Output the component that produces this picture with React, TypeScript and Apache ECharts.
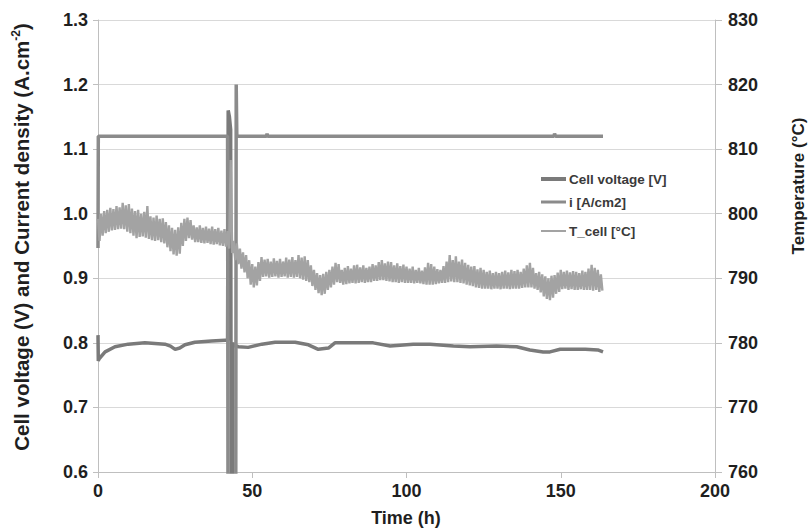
import React, { useEffect, useRef } from "react";
import * as echarts from "echarts";

const FONT = "'Liberation Sans', Arial, Helvetica, sans-serif";
const TEXT_COLOR = "#1f1f1f";

const X_TICKS = [0, 50, 100, 150, 200];
const LEFT_TICKS = [0.6, 0.7, 0.8, 0.9, 1.0, 1.1, 1.2, 1.3];
const RIGHT_TICKS = [760, 770, 780, 790, 800, 810, 820, 830];

const SERIES_NAMES = ["Cell voltage [V]", "i [A/cm2]", "T_cell [°C]"];

// Cell voltage [V] (time in h)
const VOLT_T = [0, 0.1, 0.3, 2.3, 5.5, 9.8, 15.2, 21.7, 23.5, 25.0, 26.5, 28.2, 31.4, 36.8, 41.2, 42.0, 42.2, 42.6, 43.0, 43.2, 43.5, 43.7, 44.2, 45.5, 48.7, 53.1, 57.4, 63.9, 68.2, 71.4, 74.7, 76.8, 78.4, 83.9, 89.2, 94.7, 102.2, 107.6, 115.2, 120.6, 129.2, 135.7, 140.0, 144.3, 146.5, 149.8, 153.0, 158.0, 162.0, 163.7];
const VOLT_V = [0.812, 0.772, 0.775, 0.786, 0.794, 0.798, 0.800, 0.798, 0.795, 0.790, 0.792, 0.797, 0.801, 0.803, 0.804, 0.804, 1.16, 1.15, 1.13, 0.5, 0.5, 0.80, 0.796, 0.794, 0.793, 0.798, 0.801, 0.801, 0.797, 0.790, 0.792, 0.800, 0.800, 0.800, 0.800, 0.795, 0.798, 0.798, 0.795, 0.794, 0.795, 0.794, 0.789, 0.786, 0.786, 0.790, 0.790, 0.790, 0.789, 0.786];

// Current density i [A/cm2]
const CUR_T = [0, 0.1, 42.0, 42.2, 44.6, 44.8, 45.0, 54.6, 54.8, 55.0, 147.8, 148.0, 148.3, 163.7];
const CUR_V = [0.947, 1.12, 1.12, 0.3, 0.3, 1.2, 1.12, 1.12, 1.124, 1.12, 1.12, 1.124, 1.12, 1.12];

// T_cell [°C]: upper readings at whole hours 0..163, lower readings at half hours 0.5..163.5
const TCELL_HI = [
  799.2, 800.0, 800.4, 800.6, 800.9, 800.7, 801.2, 801.0, 801.7, 801.3,
  801.5, 800.8, 800.4, 800.6, 800.0, 800.3, 801.2, 799.6, 799.4, 799.7,
  799.2, 799.3, 798.7, 798.2, 797.8, 797.5, 797.9, 798.6, 799.2, 799.4,
  799.0, 798.2, 797.9, 798.2, 797.8, 798.0, 797.7, 798.0, 797.6, 797.8,
  797.4, 797.6, 797.3, 808.3, 795.8, 795.4, 794.6, 794.0, 793.6, 792.8,
  792.2, 791.8, 792.5, 793.3, 792.9, 793.0, 792.6, 793.1, 792.7, 793.0,
  792.6, 793.2, 792.9, 793.3, 792.8, 793.6, 793.2, 793.4, 792.8, 792.0,
  791.3, 790.8, 790.5, 790.7, 791.0, 791.3, 791.8, 792.4, 792.2, 791.3,
  791.6, 791.9, 791.5, 792.0, 792.1, 791.7, 792.0, 791.6, 791.8, 792.2,
  792.0, 792.5, 792.8, 792.3, 792.6, 792.5, 792.0, 792.3, 791.9, 792.1,
  791.8, 791.5, 791.8, 791.3, 791.6, 791.2, 791.7, 792.4, 792.2, 791.8,
  791.4, 791.3, 791.9, 792.6, 793.6, 792.8, 793.4, 792.6, 792.9, 792.4,
  792.1, 791.8, 791.9, 791.4, 791.6, 791.3, 791.0, 791.2, 790.8, 791.0,
  790.8, 791.0, 791.2, 790.9, 791.3, 791.1, 791.3, 791.0, 791.5, 792.0,
  792.4, 791.6, 790.8, 791.0, 790.6, 790.3, 790.0, 790.4, 790.5, 790.9,
  791.3, 791.0, 791.2, 790.9, 791.1, 791.0, 790.8, 791.2, 791.0, 791.5,
  792.1, 791.6, 791.3, 790.6,
];
const TCELL_LO = [
  795.8, 796.6, 797.0, 797.2, 797.4, 797.5, 797.6, 797.7, 797.6, 797.2,
  797.0, 796.6, 796.2, 796.4, 796.5, 796.3, 796.1, 795.9, 795.8, 795.9,
  795.6, 795.4, 794.8, 794.2, 793.7, 793.5, 793.8, 795.0, 795.8, 796.2,
  796.0, 795.6, 795.6, 795.5, 795.4, 795.5, 795.3, 795.2, 795.3, 795.1,
  795.0, 794.9, 794.6, 793.9, 792.8, 792.2, 791.5, 790.9, 790.0, 789.0,
  788.6, 788.9, 789.6, 790.2, 790.3, 790.1, 790.2, 790.3, 790.1, 790.2,
  790.3, 790.1, 790.2, 790.1, 790.2, 790.0, 789.8, 789.6, 789.4, 788.8,
  788.2, 787.7, 787.4, 787.6, 788.2, 788.6, 789.0, 789.4, 789.3, 789.0,
  789.1, 789.2, 789.3, 789.2, 789.3, 789.4, 789.3, 789.4, 789.4, 789.6,
  789.6, 789.7, 789.7, 789.6, 789.5, 789.4, 789.4, 789.3, 789.4, 789.3,
  789.3, 789.3, 789.2, 789.3, 789.2, 789.1, 789.0, 789.0, 789.0, 789.1,
  789.2, 789.3, 789.3, 789.4, 789.5, 789.4, 789.4, 789.3, 789.2, 789.0,
  788.9, 788.8, 788.6, 788.5, 788.4, 788.4, 788.4, 788.3, 788.4, 788.4,
  788.3, 788.4, 788.4, 788.3, 788.4, 788.4, 788.4, 788.5, 788.6, 788.6,
  788.6, 788.4, 788.2, 787.8, 787.2, 786.8, 786.6, 787.0, 787.6, 787.9,
  788.3, 788.4, 788.2, 788.3, 788.2, 788.2, 788.3, 788.2, 788.2, 788.2,
  788.1, 788.2, 787.9, 788.1,
];

const COLORS = ["#7a7a7a", "#8b8b8b", "#a3a3a3"];

function pairs(t: number[], v: number[]) {
  return t.map((x, i) => [x, v[i]]);
}

function tcellData() {
  const out: number[][] = [];
  for (let k = 0; k < TCELL_HI.length; k++) {
    out.push([k, TCELL_HI[k]]);
    out.push([k + 0.5, TCELL_LO[k]]);
  }
  return out;
}

const labelStyle = {
  fontFamily: FONT,
  fontSize: 18,
  fontWeight: "bold" as const,
  color: TEXT_COLOR,
};

function makeLegend(name: string, top: number, h: number) {
  return {
    data: [name],
    left: 541,
    top,
    padding: 0,
    icon: "rect",
    itemWidth: 25,
    itemHeight: h,
    selectedMode: false,
    textStyle: { fontFamily: FONT, fontSize: 13.5, fontWeight: "bold", color: "#3a3a3a", padding: [0, 0, 0, -2] },
  };
}

export default function App() {
  const ref = useRef<HTMLDivElement>(null);
  useEffect(() => {
    if (!ref.current) return;
    const chart = echarts.init(ref.current, undefined, { renderer: "svg" });
    const axisGrey = "#bfbfbf";
    chart.setOption({
      animation: false,
      backgroundColor: "#ffffff",
      grid: { left: 98, right: 93, top: 20, bottom: 60 },
      xAxis: {
        type: "value",
        min: X_TICKS[0],
        max: X_TICKS[X_TICKS.length - 1],
        interval: 50,
        axisLine: { show: true, lineStyle: { color: axisGrey, width: 1 } },
        axisTick: { show: true, length: 6, lineStyle: { color: axisGrey } },
        axisLabel: { ...labelStyle, margin: 10 },
        splitLine: { show: false },
      },
      yAxis: [
        {
          type: "value",
          position: "left",
          min: LEFT_TICKS[0],
          max: LEFT_TICKS[LEFT_TICKS.length - 1],
          interval: 0.1,
          axisLine: { show: true, lineStyle: { color: axisGrey, width: 1 } },
          axisTick: { show: true, length: 5, lineStyle: { color: axisGrey } },
          axisLabel: { ...labelStyle, margin: 10, formatter: (v: number) => v.toFixed(1) },
          splitLine: { show: true, lineStyle: { color: "#d9d9d9", width: 1 } },
        },
        {
          type: "value",
          position: "right",
          min: RIGHT_TICKS[0],
          max: RIGHT_TICKS[RIGHT_TICKS.length - 1],
          interval: 10,
          axisLine: { show: true, lineStyle: { color: axisGrey, width: 1 } },
          axisTick: { show: true, length: 7, lineStyle: { color: axisGrey } },
          axisLabel: { ...labelStyle, margin: 13 },
          splitLine: { show: false },
        },
      ],
      legend: [
        makeLegend(SERIES_NAMES[0], 172, 4),
        makeLegend(SERIES_NAMES[1], 195, 3),
        makeLegend(SERIES_NAMES[2], 224, 2),
      ],
      series: [
        {
          name: SERIES_NAMES[0],
          type: "line",
          yAxisIndex: 0,
          data: pairs(VOLT_T, VOLT_V),
          symbol: "none",
          showSymbol: false,
          lineStyle: { color: COLORS[0], width: 3.5, join: "bevel" },
          itemStyle: { color: COLORS[0] },
          z: 2,
        },
        {
          name: SERIES_NAMES[1],
          type: "line",
          yAxisIndex: 0,
          data: pairs(CUR_T, CUR_V),
          symbol: "none",
          showSymbol: false,
          lineStyle: { color: COLORS[1], width: 3.5, join: "bevel" },
          itemStyle: { color: COLORS[1] },
          z: 3,
        },
        {
          name: SERIES_NAMES[2],
          type: "line",
          yAxisIndex: 1,
          data: tcellData(),
          symbol: "none",
          showSymbol: false,
          lineStyle: { color: COLORS[2], width: 2.4, join: "bevel" },
          itemStyle: { color: COLORS[2] },
          z: 4,
        },
      ],
      graphic: [
        {
          type: "text",
          x: 21,
          y: 237,
          rotation: Math.PI / 2,
          style: {
            text: "Cell voltage (V) and Current density (A.cm{sup|-2})",
            fontFamily: FONT,
            fontSize: 20.5,
            fontWeight: "bold",
            fill: TEXT_COLOR,
            align: "center",
            verticalAlign: "middle",
            rich: {
              sup: { fontFamily: FONT, fontSize: 12, fontWeight: "bold", fill: TEXT_COLOR, verticalAlign: "top", lineHeight: 22 },
            },
          },
        },
        {
          type: "text",
          x: 798,
          y: 186,
          rotation: Math.PI / 2,
          style: {
            text: "Temperature (°C)",
            fontFamily: FONT,
            fontSize: 17,
            fontWeight: "bold",
            fill: TEXT_COLOR,
            align: "center",
            verticalAlign: "middle",
          },
        },
        {
          type: "text",
          x: 406,
          y: 518,
          style: {
            text: "Time (h)",
            fontFamily: FONT,
            fontSize: 18,
            fontWeight: "bold",
            fill: TEXT_COLOR,
            align: "center",
            verticalAlign: "middle",
          },
        },
      ],
    });
    return () => chart.dispose();
  }, []);
  return (
    <div
      ref={ref}
      style={{ position: "absolute", left: 0, top: 0, width: 808, height: 532, background: "#fff" }}
    />
  );
}
